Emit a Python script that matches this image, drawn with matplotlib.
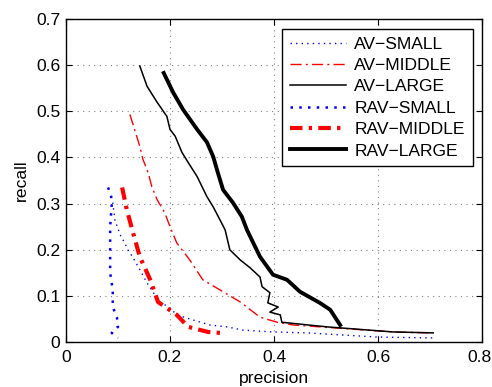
import matplotlib
matplotlib.use("Agg")
import matplotlib.pyplot as plt
from matplotlib.transforms import ScaledTranslation

plt.rcParams['font.family'] = ['Liberation Sans', 'DejaVu Sans']

av_small_x = [0.090, 0.094, 0.104, 0.113, 0.119, 0.129, 0.142, 0.156, 0.171, 0.181, 0.200, 0.213, 0.244, 0.277, 0.310, 0.340, 0.398, 0.463, 0.598, 0.706]
av_small_y = [0.302, 0.265, 0.233, 0.215, 0.200, 0.183, 0.157, 0.128, 0.102, 0.087, 0.074, 0.059, 0.048, 0.037, 0.033, 0.026, 0.022, 0.020, 0.011, 0.009]

av_middle_x = [0.123, 0.142, 0.148, 0.158, 0.165, 0.175, 0.190, 0.200, 0.213, 0.238, 0.263, 0.302, 0.335, 0.373, 0.406, 0.437, 0.629, 0.700]
av_middle_y = [0.493, 0.424, 0.396, 0.367, 0.337, 0.309, 0.280, 0.250, 0.215, 0.178, 0.135, 0.109, 0.087, 0.054, 0.043, 0.037, 0.022, 0.020]

av_large_x = [0.142, 0.156, 0.175, 0.194, 0.200, 0.210, 0.223, 0.235, 0.252, 0.271, 0.283, 0.296, 0.306, 0.315, 0.335, 0.354, 0.373, 0.377, 0.392, 0.388, 0.408, 0.392, 0.412, 0.415, 0.502, 0.629, 0.706]
av_large_y = [0.598, 0.554, 0.520, 0.489, 0.461, 0.446, 0.411, 0.389, 0.359, 0.315, 0.293, 0.265, 0.243, 0.200, 0.178, 0.161, 0.141, 0.120, 0.107, 0.085, 0.076, 0.065, 0.059, 0.043, 0.033, 0.022, 0.020]

rav_small_x = [0.081, 0.087, 0.088, 0.085, 0.085, 0.085, 0.085, 0.090, 0.090, 0.098, 0.100, 0.088, 0.100]
rav_small_y = [0.335, 0.315, 0.298, 0.250, 0.215, 0.178, 0.150, 0.113, 0.076, 0.054, 0.033, 0.020, 0.009]

rav_middle_x = [0.108, 0.117, 0.129, 0.142, 0.162, 0.177, 0.213, 0.235, 0.273, 0.296]
rav_middle_y = [0.335, 0.287, 0.237, 0.185, 0.135, 0.087, 0.059, 0.033, 0.022, 0.020]

rav_large_x = [0.188, 0.206, 0.225, 0.252, 0.271, 0.283, 0.292, 0.302, 0.321, 0.338, 0.348, 0.360, 0.373, 0.398, 0.425, 0.450, 0.488, 0.508, 0.527]
rav_large_y = [0.583, 0.541, 0.504, 0.461, 0.433, 0.402, 0.367, 0.330, 0.302, 0.272, 0.243, 0.215, 0.185, 0.146, 0.135, 0.109, 0.085, 0.070, 0.037]

x_ticks = [0, 0.2, 0.4, 0.6, 0.8]
x_tick_labels = ["0", "0.2", "0.4", "0.6", "0.8"]
y_ticks = [0, 0.1, 0.2, 0.3, 0.4, 0.5, 0.6, 0.7]
y_tick_labels = ["0", "0.1", "0.2", "0.3", "0.4", "0.5", "0.6", "0.7"]

FS = 12.6

fig = plt.figure(figsize=(4.92, 3.87), dpi=100)
ax = fig.add_axes([0.134, 0.116, 0.846, 0.835])

ax.plot(av_small_x, av_small_y, color='blue', linestyle=(0, (1, 3)), lw=1, label='AV\u2212SMALL')
ax.plot(av_middle_x, av_middle_y, color='red', linestyle=(0, (8, 3, 1.5, 3)), lw=1, label='AV\u2212MIDDLE')
ax.plot(av_large_x, av_large_y, color='black', linestyle='-', lw=1.1, label='AV\u2212LARGE')
ax.plot(rav_small_x, rav_small_y, color='blue', linestyle=(0, (1, 2.5)), lw=1.8, label='RAV\u2212SMALL')
ax.plot(rav_middle_x, rav_middle_y, color='red', linestyle=(0, (3, 1.5, 0.8, 1.5)), lw=3, label='RAV\u2212MIDDLE')
ax.plot(rav_large_x, rav_large_y, color='black', linestyle='-', lw=2.8, label='RAV\u2212LARGE')

ax.set_xlim(0, 0.8)
ax.set_ylim(0, 0.7)
ax.set_xticks(x_ticks)
ax.set_xticklabels(x_tick_labels)
ax.set_yticks(y_ticks)
ax.set_yticklabels(y_tick_labels)
ax.tick_params(direction='in', top=True, right=True, labelsize=FS, length=4)
ax.tick_params(axis='x', pad=6)
ax.tick_params(axis='y', pad=4)
ax.grid(True, linestyle=(0, (1, 4)), color='gray', lw=0.8)
for s in ax.spines.values():
    s.set_linewidth(1)
ax.set_xlabel('precision', fontsize=FS, labelpad=4)
ax.set_ylabel('recall', fontsize=FS, labelpad=5)

# nudge the last x tick label so it stays inside the figure
last = ax.get_xticklabels()[-1]
last.set_transform(last.get_transform() + ScaledTranslation(-3 / 100, 0, fig.dpi_scale_trans))

leg = ax.legend(loc='upper right', fontsize=FS, frameon=True, fancybox=False,
                edgecolor='black', framealpha=1, handlelength=3.2, labelspacing=0.35,
                borderaxespad=0.55, handletextpad=0.45, borderpad=0.45)
leg.get_frame().set_linewidth(1)

fig.savefig('out.png', dpi=100)
